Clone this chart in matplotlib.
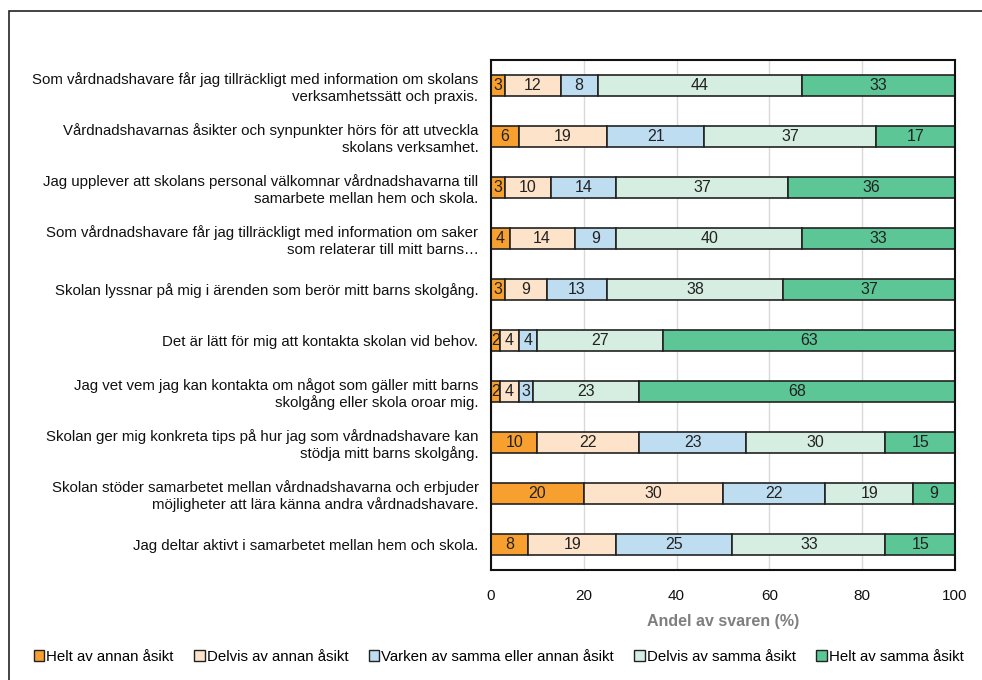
import numpy as np
import matplotlib.pyplot as plt
from matplotlib.patches import Rectangle

plt.rcParams['font.family'] = ['Liberation Sans', 'DejaVu Sans']

# questions, top to bottom
questions = [
    'Som vårdnadshavare får jag tillräckligt med information om skolans\nverksamhetssätt och praxis.',
    'Vårdnadshavarnas åsikter och synpunkter hörs för att utveckla\nskolans verksamhet.',
    'Jag upplever att skolans personal välkomnar vårdnadshavarna till\nsamarbete mellan hem och skola.',
    'Som vårdnadshavare får jag tillräckligt med information om saker\nsom relaterar till mitt barns…',
    'Skolan lyssnar på mig i ärenden som berör mitt barns skolgång.',
    'Det är lätt för mig att kontakta skolan vid behov.',
    'Jag vet vem jag kan kontakta om något som gäller mitt barns\nskolgång eller skola oroar mig.',
    'Skolan ger mig konkreta tips på hur jag som vårdnadshavare kan\nstödja mitt barns skolgång.',
    'Skolan stöder samarbetet mellan vårdnadshavarna och erbjuder\nmöjligheter att lära känna andra vårdnadshavare.',
    'Jag deltar aktivt i samarbetet mellan hem och skola.',
]

categories = ['Helt av annan åsikt', 'Delvis av annan åsikt',
              'Varken av samma eller annan åsikt', 'Delvis av samma åsikt',
              'Helt av samma åsikt']

helt_annan = [3, 6, 3, 4, 3, 2, 2, 10, 20, 8]
delvis_annan = [12, 19, 10, 14, 9, 4, 4, 22, 30, 19]
varken = [8, 21, 14, 9, 13, 4, 3, 23, 22, 25]
delvis_samma = [44, 37, 37, 40, 38, 27, 23, 30, 19, 33]
helt_samma = [33, 17, 36, 33, 37, 63, 68, 15, 9, 15]

colors = ['#F7A030', '#FDE3C9', '#BEDDF1', '#D5EEE1', '#5CC696']

series = [helt_annan, delvis_annan, varken, delvis_samma, helt_samma]

fig = plt.figure(figsize=(9.82, 6.8), dpi=100)
ax = fig.add_axes([0.5, 0.162, 0.4725, 0.75])

y = np.arange(len(questions))
left = np.zeros(len(questions))
for vals, col, name in zip(series, colors, categories):
    vals = np.array(vals, dtype=float)
    bars = ax.barh(y, vals, left=left, height=0.42, color=col,
                   edgecolor='#222222', linewidth=1.2, label=name)
    for b, v in zip(bars, vals):
        ax.text(b.get_x() + b.get_width() / 2, b.get_y() + b.get_height() / 2,
                f'{int(v)}', ha='center', va='center', fontsize=11.5,
                color='#222222')
    left += vals

ax.set_xlim(0, 100)
ax.set_ylim(len(questions) - 0.5, -0.5)
ax.set_yticks(y)
ax.set_yticklabels(questions, fontsize=10.8, color='#111111')
ax.set_xticks([0, 20, 40, 60, 80, 100])
ax.tick_params(axis='x', labelsize=11, length=0, pad=14, colors='#111111')
ax.tick_params(axis='y', length=0, pad=9)
ax.xaxis.grid(True, color='#d9d9d9', linewidth=1)
ax.set_axisbelow(True)
for s in ax.spines.values():
    s.set_color('#111111')
    s.set_linewidth(1.5)

ax.set_xlabel('Andel av svaren (%)', fontsize=11.5, fontweight='bold',
              color='#7f7f7f', labelpad=8)

handles, labels = ax.get_legend_handles_labels()
leg = fig.legend(handles, labels, loc='center', bbox_to_anchor=(0.508, 0.034),
                 ncol=5, frameon=False, fontsize=10.8, handlelength=0.7,
                 handleheight=0.7, handletextpad=0.15, columnspacing=1.35)
for h in leg.legend_handles:
    h.set_linewidth(1.0)

# outer frame
fig.patches.append(Rectangle((0.009, -0.05), 1.2, 1.034, transform=fig.transFigure,
                             fill=False, edgecolor='#222222', linewidth=1.2))

plt.savefig('out.png', dpi=100)
